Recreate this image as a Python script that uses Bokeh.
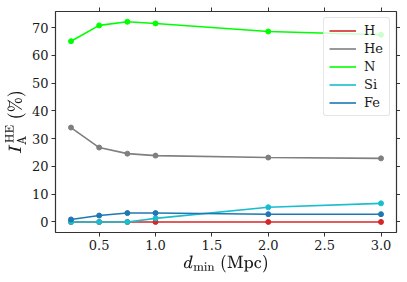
from bokeh.plotting import figure
from bokeh.models import (LinearAxis, FixedTicker, Range1d, Legend, LegendItem, PrintfTickFormatter)
from bokeh.embed import file_html
from bokeh.resources import INLINE

d_min = [0.25, 0.5, 0.75, 1.0, 2.0, 3.0]
H = [0.0, 0.0, 0.0, 0.0, 0.0, 0.0]
He = [34.0, 26.8, 24.6, 23.9, 23.2, 22.9]
N = [65.1, 70.8, 72.1, 71.5, 68.6, 67.4]
Si = [0.0, 0.0, 0.0, 1.3, 5.3, 6.7]
Fe = [0.9, 2.3, 3.2, 3.2, 2.8, 2.8]
names = ["H", "He", "N", "Si", "Fe"]
series = [H, He, N, Si, Fe]
colors = ["#d62728", "#7f7f7f", "#00ff00", "#17becf", "#1f77b4"]
xticks = [0.5, 1.0, 1.5, 2.0, 2.5, 3.0]
yticks = [0, 10, 20, 30, 40, 50, 60, 70]

FONT = "DejaVu Serif"
INK = "#1a1a1a"

p = figure(width=400, height=275, output_backend="svg", toolbar_location=None,
           x_range=Range1d(0.1125, 3.1375), y_range=Range1d(-3.8, 75.8),
           min_border_left=55, min_border_right=4, min_border_top=11, min_border_bottom=42)
p.grid.visible = False
p.outline_line_color = "#333333"
p.outline_line_width = 1.2
p.background_fill_color = "white"
p.border_fill_color = "white"

items = []
for name, ys, c in zip(names, series, colors):
    r = p.line(d_min, ys, line_color=c, line_width=1.6)
    p.scatter(d_min, ys, size=5, color=c)
    items.append(LegendItem(label=name, renderers=[r]))

for ax in [p.xaxis[0], p.yaxis[0]]:
    ax.major_label_text_font = FONT
    ax.major_label_text_font_size = "13px"
    ax.major_label_text_color = INK
    ax.axis_label_text_font = FONT
    ax.axis_label_text_font_size = "15px"
    ax.axis_label_text_font_style = "normal"
    ax.axis_label_text_color = INK
    ax.minor_tick_line_color = None
    ax.major_tick_out = 4
    ax.major_tick_in = 0
    ax.axis_line_color = None
    ax.major_tick_line_color = "#333333"

p.xaxis[0].ticker = FixedTicker(ticks=xticks)
p.xaxis[0].formatter = PrintfTickFormatter(format="%.1f")
p.yaxis[0].ticker = FixedTicker(ticks=yticks)
p.xaxis[0].axis_label = r"$$d_{\mathrm{min}}\ \mathrm{(Mpc)}$$"
p.yaxis[0].axis_label = r"$$I_{\mathrm{A}}^{\mathrm{HE}}\ (\%)$$"
p.xaxis[0].axis_label_standoff = 2
p.yaxis[0].axis_label_standoff = 3
p.xaxis[0].major_label_standoff = 3
p.yaxis[0].major_label_standoff = 3

top = LinearAxis(ticker=FixedTicker(ticks=xticks),
                 major_label_overrides={t: "" for t in xticks},
                 major_label_standoff=0, minor_tick_line_color=None, axis_line_color=None,
                 major_tick_out=4, major_tick_in=0, major_tick_line_color="#333333")
right = LinearAxis(ticker=FixedTicker(ticks=yticks),
                   major_label_overrides={t: "" for t in yticks},
                   major_label_standoff=0, minor_tick_line_color=None, axis_line_color=None,
                   major_tick_out=4, major_tick_in=0, major_tick_line_color="#333333")
p.add_layout(top, "above")
p.add_layout(right, "right")

legend = Legend(items=items, location="top_right")
legend.label_text_font = FONT
legend.label_text_font_size = "13px"
legend.label_text_color = INK
legend.glyph_width = 27
legend.glyph_height = 15
legend.label_height = 15
legend.label_standoff = 8
legend.spacing = 3
legend.padding = 5
legend.margin = 6
legend.border_line_color = "#cccccc"
legend.border_radius = 3
legend.background_fill_alpha = 0.8
p.add_layout(legend)

open("out.html", "w").write(file_html(p, INLINE))
